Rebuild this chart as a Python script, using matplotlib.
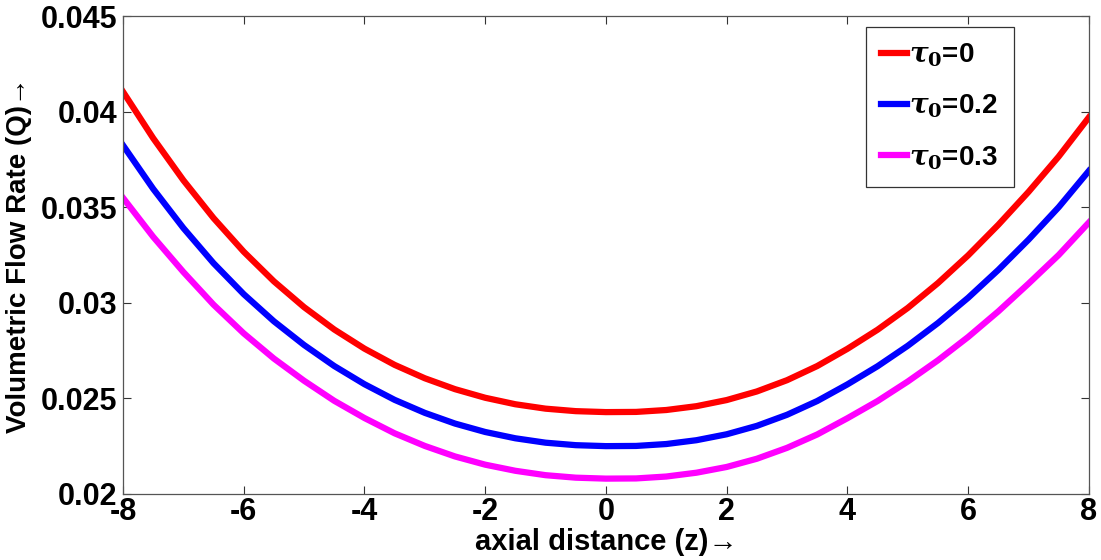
import numpy as np
from matplotlib import pyplot as plt

plt.rcParams['font.family'] = ['Liberation Sans', 'DejaVu Sans']
plt.rcParams['font.weight'] = 'bold'
plt.rcParams['mathtext.fontset'] = 'dejavuserif'
plt.rcParams['axes.unicode_minus'] = False

# axial distance z
z = [-8, -7.5, -7, -6.5, -6, -5.5, -5, -4.5, -4, -3.5, -3, -2.5, -2, -1.5, -1, -0.5, 0,
     0.5, 1, 1.5, 2, 2.5, 3, 3.5, 4, 4.5, 5, 5.5, 6, 6.5, 7, 7.5, 8]

# volumetric flow rate Q for each tau_0
q_tau0 = [0.04104, 0.03861, 0.03641, 0.03443, 0.03267, 0.03112, 0.02977, 0.02860, 0.02760,
          0.02675, 0.02605, 0.02548, 0.02503, 0.02469, 0.02446, 0.02433, 0.02428,
          0.02429, 0.02439, 0.02459, 0.02491, 0.02536, 0.02595, 0.02669, 0.02759,
          0.02859, 0.02973, 0.03103, 0.03248, 0.03408, 0.03580, 0.03765, 0.03970]
q_tau02 = [0.03824, 0.03596, 0.03391, 0.03207, 0.03045, 0.02903, 0.02779, 0.02669, 0.02574,
           0.02492, 0.02424, 0.02368, 0.02324, 0.02291, 0.02268, 0.02255, 0.02250,
           0.02251, 0.02261, 0.02281, 0.02312, 0.02356, 0.02414, 0.02486, 0.02573,
           0.02668, 0.02775, 0.02894, 0.03026, 0.03172, 0.03330, 0.03500, 0.03690]
q_tau03 = [0.03549, 0.03345, 0.03161, 0.02990, 0.02840, 0.02708, 0.02592, 0.02487, 0.02397,
           0.02317, 0.02251, 0.02196, 0.02153, 0.02121, 0.02098, 0.02085, 0.02080,
           0.02081, 0.02091, 0.02111, 0.02141, 0.02184, 0.02241, 0.02311, 0.02396,
           0.02486, 0.02588, 0.02699, 0.02821, 0.02955, 0.03100, 0.03250, 0.03420]

labels = [r'$\tau_\mathbf{0}$=0', r'$\tau_\mathbf{0}$=0.2', r'$\tau_\mathbf{0}$=0.3']
colors = ['#ff0000', '#0000ff', '#ff00ff']

fig = plt.figure(figsize=(11.01, 5.6), dpi=100)
ax = fig.add_axes([0.1117, 0.118, 0.8773, 0.8534])

for q, lab, c in zip([q_tau0, q_tau02, q_tau03], labels, colors):
    ax.plot(z, q, color=c, linewidth=4.5, label=lab, solid_joinstyle='round')

ax.set_xlim(-8, 8)
ax.set_ylim(0.02, 0.045)
ax.set_xticks(np.arange(-8, 9, 2))
ax.set_yticks([0.02, 0.025, 0.03, 0.035, 0.04, 0.045])
ax.set_yticklabels(['0.02', '0.025', '0.03', '0.035', '0.04', '0.045'])
ax.tick_params(direction='in', length=6, width=0.8, top=True, right=True,
               labelsize=22, pad=4, color='#333333')
ax.tick_params(axis='x', pad=2)
for s in ax.spines.values():
    s.set_color('#555555')
    s.set_linewidth(0.9)

ax.set_xlabel('axial distance (z)\u2192', fontsize=21, fontweight='bold', labelpad=1)
ax.set_ylabel('Volumetric Flow Rate (Q)\u2192', fontsize=20, fontweight='bold', labelpad=6)

leg = ax.legend(loc='upper right', bbox_to_anchor=(0.922, 0.978), fontsize=20,
                handlelength=0.95, handletextpad=0.08, labelspacing=0.85,
                borderpad=0.55, borderaxespad=0, fancybox=False, framealpha=1)
leg.get_frame().set_edgecolor('#333333')
leg.get_frame().set_linewidth(0.9)

fig.savefig('out.png', dpi=100)
